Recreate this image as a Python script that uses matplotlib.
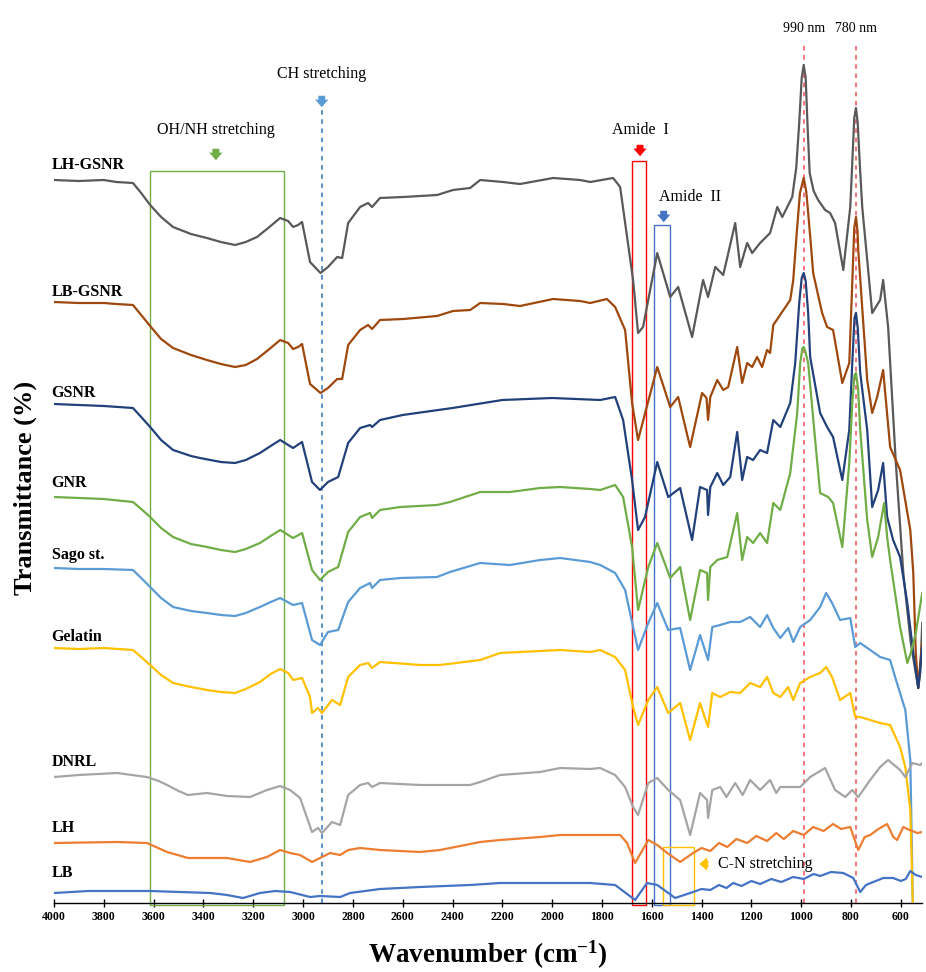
import numpy as np
import matplotlib.pyplot as plt
from matplotlib.patches import Rectangle

plt.rcParams['font.family'] = ['Liberation Serif', 'DejaVu Serif']
plt.rcParams['mathtext.fontset'] = 'custom'
plt.rcParams['mathtext.rm'] = 'Liberation Serif:bold'
plt.rcParams['mathtext.default'] = 'rm'

# FTIR spectra, (wavenumber cm-1, stacked transmittance)
lh_gsnr = [(4000, 723), (3900, 722), (3800, 723), (3750, 721), (3683, 720), (3650, 710),
           (3614, 698), (3570, 686), (3522, 676), (3450, 669), (3386, 665), (3330, 661),
           (3273, 658), (3230, 661), (3185, 666), (3140, 675), (3092, 685), (3060, 682),
           (3040, 676), (3020, 678), (3004, 681), (2972, 641), (2930, 630), (2900, 636),
           (2863, 646), (2843, 645), (2819, 680), (2771, 696), (2739, 700), (2723, 696),
           (2691, 705), (2598, 706), (2462, 708), (2398, 713), (2329, 715), (2289, 723),
           (2197, 721), (2129, 719), (1996, 725), (1888, 723), (1847, 721), (1755, 725),
           (1727, 716), (1675, 623), (1655, 570), (1635, 576), (1578, 650), (1526, 606),
           (1494, 616), (1438, 566), (1394, 623), (1374, 606), (1345, 636), (1313, 628),
           (1265, 680), (1245, 636), (1217, 660), (1197, 650), (1165, 660), (1125, 670),
           (1096, 696), (1076, 686), (1036, 706), (1020, 735), (1008, 780), (998, 825),
           (990, 838), (982, 825), (975, 780), (966, 730), (950, 712), (932, 703),
           (904, 693), (884, 690), (864, 680), (831, 633), (803, 696), (795, 740),
           (787, 785), (780, 795), (773, 780), (765, 740), (755, 696), (715, 590),
           (683, 603), (671, 623), (651, 576), (620, 440), (590, 330), (560, 260),
           (540, 230), (530, 215), (522, 230), (514, 280)]

lb_gsnr = [(4000, 601), (3900, 600), (3800, 600), (3750, 599), (3683, 598), (3650, 588),
           (3614, 577), (3570, 564), (3522, 555), (3450, 548), (3386, 543), (3330, 539),
           (3273, 536), (3230, 538), (3185, 544), (3140, 553), (3092, 563), (3060, 560),
           (3040, 554), (3020, 556), (3004, 559), (2972, 519), (2930, 510), (2900, 515),
           (2863, 524), (2843, 524), (2819, 558), (2771, 573), (2739, 578), (2723, 574),
           (2691, 583), (2598, 584), (2462, 587), (2398, 592), (2329, 593), (2289, 600),
           (2197, 599), (2129, 597), (1996, 604), (1888, 602), (1847, 600), (1780, 604),
           (1747, 596), (1707, 573), (1679, 500), (1655, 463), (1578, 536), (1526, 496),
           (1494, 506), (1446, 456), (1398, 510), (1380, 505), (1374, 483), (1365, 506),
           (1337, 523), (1313, 513), (1293, 516), (1257, 556), (1237, 520), (1217, 540),
           (1197, 536), (1177, 546), (1157, 536), (1137, 553), (1125, 550), (1112, 578),
           (1044, 603), (1032, 623), (1018, 670), (1005, 710), (990, 725), (980, 712),
           (972, 690), (960, 655), (952, 630), (916, 590), (896, 576), (872, 573),
           (835, 520), (807, 540), (795, 620), (787, 675), (780, 686), (774, 672),
           (771, 653), (735, 523), (715, 490), (695, 506), (671, 533), (643, 456),
           (603, 433), (562, 373), (550, 330), (540, 250), (530, 215), (522, 240),
           (514, 260)]

gsnr = [(4000, 499), (3900, 498), (3800, 497), (3683, 495), (3650, 486), (3614, 476),
        (3570, 463), (3522, 453), (3450, 447), (3414, 445), (3330, 441), (3273, 440),
        (3230, 443), (3173, 450), (3130, 457), (3092, 463), (3040, 455), (3004, 461),
        (2964, 421), (2932, 413), (2900, 421), (2859, 426), (2819, 460), (2771, 475),
        (2731, 478), (2723, 476), (2691, 483), (2600, 488), (2400, 495), (2200, 503),
        (2000, 505), (1807, 503), (1747, 506), (1715, 483), (1679, 423), (1655, 373),
        (1627, 386), (1578, 441), (1534, 406), (1486, 415), (1438, 363), (1406, 416),
        (1378, 413), (1374, 388), (1365, 416), (1337, 430), (1313, 418), (1285, 426),
        (1257, 471), (1237, 423), (1217, 446), (1193, 443), (1165, 453), (1137, 450),
        (1112, 483), (1084, 476), (1044, 500), (1024, 540), (1008, 600), (998, 625),
        (990, 630), (982, 622), (972, 590), (964, 546), (924, 490), (896, 476),
        (872, 466), (835, 423), (807, 473), (795, 540), (786, 585), (780, 590),
        (773, 575), (763, 530), (735, 473), (715, 396), (691, 413), (671, 440),
        (655, 386), (631, 363), (603, 346), (574, 300), (550, 250), (530, 215),
        (522, 235), (514, 255)]

gnr = [(4000, 406), (3900, 405), (3800, 404), (3683, 401), (3650, 394), (3614, 386),
       (3570, 375), (3522, 366), (3450, 359), (3386, 356), (3330, 353), (3273, 351),
       (3230, 354), (3173, 360), (3130, 367), (3092, 373), (3040, 365), (3004, 370),
       (2964, 333), (2932, 323), (2900, 331), (2859, 336), (2819, 371), (2771, 386),
       (2731, 390), (2723, 385), (2691, 393), (2610, 396), (2462, 398), (2410, 401),
       (2289, 411), (2169, 411), (2048, 415), (1968, 416), (1847, 414), (1807, 413),
       (1747, 418), (1715, 406), (1679, 356), (1655, 293), (1614, 336), (1578, 360),
       (1526, 325), (1486, 336), (1446, 283), (1406, 333), (1378, 330), (1374, 303),
       (1365, 336), (1337, 343), (1297, 346), (1257, 390), (1237, 343), (1217, 366),
       (1193, 360), (1165, 370), (1137, 360), (1112, 400), (1084, 393), (1044, 430),
       (1016, 490), (1004, 540), (995, 555), (990, 556), (984, 552), (972, 540),
       (944, 463), (924, 410), (892, 406), (872, 400), (835, 356), (807, 440),
       (795, 500), (786, 528), (780, 530), (772, 515), (763, 473), (735, 383),
       (715, 346), (691, 366), (667, 400), (655, 366), (643, 343), (603, 276),
       (574, 240), (560, 250), (540, 270), (514, 310)]

sago = [(4000, 335), (3900, 334), (3800, 334), (3683, 333), (3650, 325), (3614, 316),
        (3570, 305), (3522, 296), (3450, 292), (3386, 290), (3330, 288), (3273, 287),
        (3230, 290), (3173, 296), (3130, 301), (3092, 305), (3040, 298), (3004, 300),
        (2964, 263), (2932, 258), (2900, 271), (2859, 273), (2819, 301), (2771, 315),
        (2731, 320), (2723, 315), (2691, 323), (2610, 325), (2462, 326), (2410, 331),
        (2289, 340), (2169, 338), (2048, 343), (1968, 345), (1847, 341), (1807, 338),
        (1747, 330), (1707, 313), (1675, 276), (1655, 253), (1614, 280), (1578, 300),
        (1534, 273), (1486, 275), (1446, 233), (1406, 268), (1374, 243), (1357, 276),
        (1325, 278), (1285, 281), (1245, 281), (1205, 286), (1165, 276), (1137, 288),
        (1112, 275), (1084, 265), (1052, 275), (1032, 261), (1004, 276), (964, 283),
        (924, 296), (900, 310), (876, 300), (844, 283), (803, 285), (783, 256),
        (763, 260), (723, 253), (683, 246), (643, 243), (623, 226), (582, 193),
        (562, 143), (556, 60), (552, 0)]

gelatin = [(4000, 255), (3900, 254), (3800, 255), (3683, 253), (3650, 246), (3614, 238),
           (3570, 228), (3522, 220), (3450, 216), (3386, 213), (3330, 211), (3273, 210),
           (3230, 214), (3173, 221), (3130, 229), (3092, 234), (3060, 230), (3040, 223),
           (3004, 225), (2972, 206), (2964, 190), (2940, 195), (2924, 190), (2884, 203),
           (2851, 198), (2819, 226), (2771, 238), (2739, 240), (2723, 235), (2691, 241),
           (2530, 238), (2450, 238), (2289, 243), (2209, 250), (1968, 253), (1847, 251),
           (1807, 253), (1747, 246), (1707, 233), (1675, 196), (1655, 178), (1614, 203),
           (1578, 216), (1534, 190), (1486, 200), (1446, 163), (1406, 200), (1374, 176),
           (1357, 210), (1325, 206), (1285, 211), (1245, 210), (1205, 220), (1165, 216),
           (1137, 226), (1112, 210), (1084, 206), (1052, 216), (1032, 203), (1004, 220),
           (964, 226), (924, 230), (900, 236), (876, 226), (844, 203), (803, 210),
           (783, 186), (763, 186), (723, 183), (683, 180), (643, 178), (603, 156),
           (582, 136), (562, 93), (556, 40), (552, 0)]

dnrl = [(4000, 126), (3900, 128), (3747, 130), (3627, 126), (3580, 122), (3546, 118),
        (3500, 112), (3462, 108), (3386, 110), (3305, 107), (3213, 106), (3145, 113),
        (3092, 117), (3052, 113), (3012, 105), (2964, 71), (2940, 75), (2924, 70),
        (2884, 81), (2851, 78), (2819, 108), (2771, 118), (2739, 120), (2723, 116),
        (2691, 120), (2530, 118), (2450, 118), (2329, 118), (2289, 121), (2209, 128),
        (2048, 131), (1968, 135), (1847, 134), (1807, 135), (1747, 128), (1707, 116),
        (1675, 96), (1655, 88), (1614, 120), (1578, 125), (1534, 113), (1486, 103),
        (1446, 68), (1406, 110), (1378, 103), (1374, 85), (1357, 113), (1325, 116),
        (1300, 106), (1265, 120), (1235, 108), (1205, 123), (1165, 113), (1125, 123),
        (1100, 110), (1084, 116), (1044, 116), (1004, 116), (964, 126), (904, 135),
        (864, 113), (823, 106), (795, 113), (771, 106), (723, 123), (683, 136),
        (651, 143), (603, 133), (582, 126), (554, 140), (522, 138), (514, 140)]

lh = [(4000, 60), (3747, 61), (3627, 60), (3546, 51), (3462, 45), (3386, 45),
      (3305, 45), (3213, 41), (3145, 46), (3092, 53), (3052, 50), (3012, 48),
      (2964, 41), (2932, 45), (2892, 50), (2851, 48), (2819, 53), (2771, 55),
      (2691, 53), (2530, 51), (2450, 53), (2289, 61), (2209, 63), (2048, 66),
      (1968, 68), (1807, 68), (1727, 68), (1699, 60), (1667, 40), (1614, 63),
      (1578, 58), (1538, 50), (1486, 41), (1434, 50), (1400, 55), (1365, 52),
      (1330, 60), (1297, 56), (1260, 64), (1217, 60), (1180, 67), (1137, 62),
      (1100, 70), (1070, 64), (1032, 72), (990, 68), (952, 76), (910, 72),
      (872, 79), (840, 74), (803, 76), (771, 53), (745, 66), (723, 68), (690, 74),
      (655, 79), (630, 66), (615, 63), (590, 76), (574, 74), (534, 70), (514, 71)]

lb = [(4000, 10), (3863, 12), (3614, 12), (3373, 10), (3305, 8), (3241, 5),
      (3173, 10), (3112, 12), (3052, 11), (2972, 6), (2932, 7), (2851, 6),
      (2811, 10), (2691, 14), (2530, 16), (2329, 18), (2209, 20), (1847, 20),
      (1747, 18), (1667, 3), (1619, 20), (1578, 18), (1506, 5), (1434, 11),
      (1400, 14), (1365, 13), (1330, 18), (1300, 15), (1273, 20), (1240, 17),
      (1200, 22), (1165, 19), (1120, 24), (1080, 21), (1032, 26), (990, 24),
      (950, 29), (924, 27), (880, 31), (831, 30), (791, 25), (763, 11),
      (740, 18), (711, 21), (670, 25), (631, 25), (600, 22), (580, 24),
      (562, 32), (540, 28), (514, 26)]

names = ['LH-GSNR', 'LB-GSNR', 'GSNR', 'GNR', 'Sago st.', 'Gelatin', 'DNRL', 'LH', 'LB']
spectra = [lh_gsnr, lb_gsnr, gsnr, gnr, sago, gelatin, dnrl, lh, lb]
colors = ['#595959', '#9E480E', '#22417A', '#70AD47', '#5B9BD5', '#FFC000',
          '#A5A5A5', '#ED7D31', '#4472C4']
label_y = [738, 611, 510, 420, 348, 266, 141, 75, 30]

fig = plt.figure(figsize=(9.26, 9.72), dpi=100)
ax = fig.add_axes([54 / 926, 69 / 972, 868 / 926, 903 / 972])

for data, c in zip(spectra, colors):
    arr = np.array(data)
    ax.plot(arr[:, 0], arr[:, 1], color=c, lw=1.6, zorder=3, solid_joinstyle='round')

for name, y in zip(names, label_y):
    ax.text(4010, y, name, fontsize=11.5, fontweight='bold', ha='left', va='center',
            clip_on=False)

# band boxes
boxes = [(3614, 3076, 732, '#70AD47'), (1679, 1622, 742, '#FF0000'),
         (1590, 1526, 678, '#4472C4'), (1554, 1430, 56, '#FFC000')]
for x0, x1, top, c in boxes:
    ax.add_patch(Rectangle((x1, -2), x0 - x1, top + 2, fill=False, ec=c, lw=1.0,
                           zorder=2, clip_on=False))

# marker lines
ax.plot([2925, 2925], [0, 793], color='#2E75B6', lw=1.1, ls=(0, (3, 3)), zorder=2)
for w in (990, 780):
    ax.plot([w, w], [0, 858], color='#F0505A', lw=1.1, ls=(0, (3, 3)), zorder=2)

def arrow(x0, y0, x1, y1, c):
    ax.annotate('', xy=(x1, y1), xytext=(x0, y0),
                arrowprops=dict(arrowstyle='simple,head_length=0.55,head_width=0.95,tail_width=0.5',
                                fc=c, ec=c, lw=0), annotation_clip=False)

arrow(3350, 757, 3350, 740, '#70AD47')
arrow(2925, 810, 2925, 793, '#5B9BD5')
arrow(1647, 761, 1647, 744, '#FF0000')
arrow(1552, 695, 1552, 678, '#4472C4')
arrow(1362, 39, 1420, 39, '#FFC000')

ax.text(3350, 773, 'OH/NH stretching', fontsize=11.5, ha='center', va='center')
ax.text(2925, 829, 'CH stretching', fontsize=11.5, ha='center', va='center')
ax.text(1647, 773, 'Amide  I', fontsize=11.5, ha='center', va='center')
ax.text(1446, 706, 'Amide  II', fontsize=11.5, ha='center', va='center')
ax.text(1335, 39, 'C-N stretching', fontsize=11.5, ha='left', va='center')
ax.text(990, 875, '990 nm', fontsize=10, ha='center', va='center')
ax.text(780, 875, '780 nm', fontsize=10, ha='center', va='center')

ax.set_xlim(4000, 515)
ax.set_ylim(0, 903)
ax.set_xticks(np.arange(4000, 599, -200))
ax.tick_params(axis='x', direction='inout', length=6, width=1, labelsize=8.5, pad=3)
for lab in ax.get_xticklabels():
    lab.set_fontweight('bold')
ax.set_yticks([])
for s in ('top', 'right', 'left'):
    ax.spines[s].set_visible(False)
ax.spines['bottom'].set_linewidth(1.0)

fig.text(25 / 926, 1 - 488 / 972, 'Transmittance (%)', rotation=90, fontsize=19,
         fontweight='bold', ha='center', va='center')
fig.text(488 / 926, 1 - 955 / 972, 'Wavenumber (cm$^{-1}$)', fontsize=19.5,
         fontweight='bold', ha='center', va='center')

fig.savefig('out.png', dpi=100)
